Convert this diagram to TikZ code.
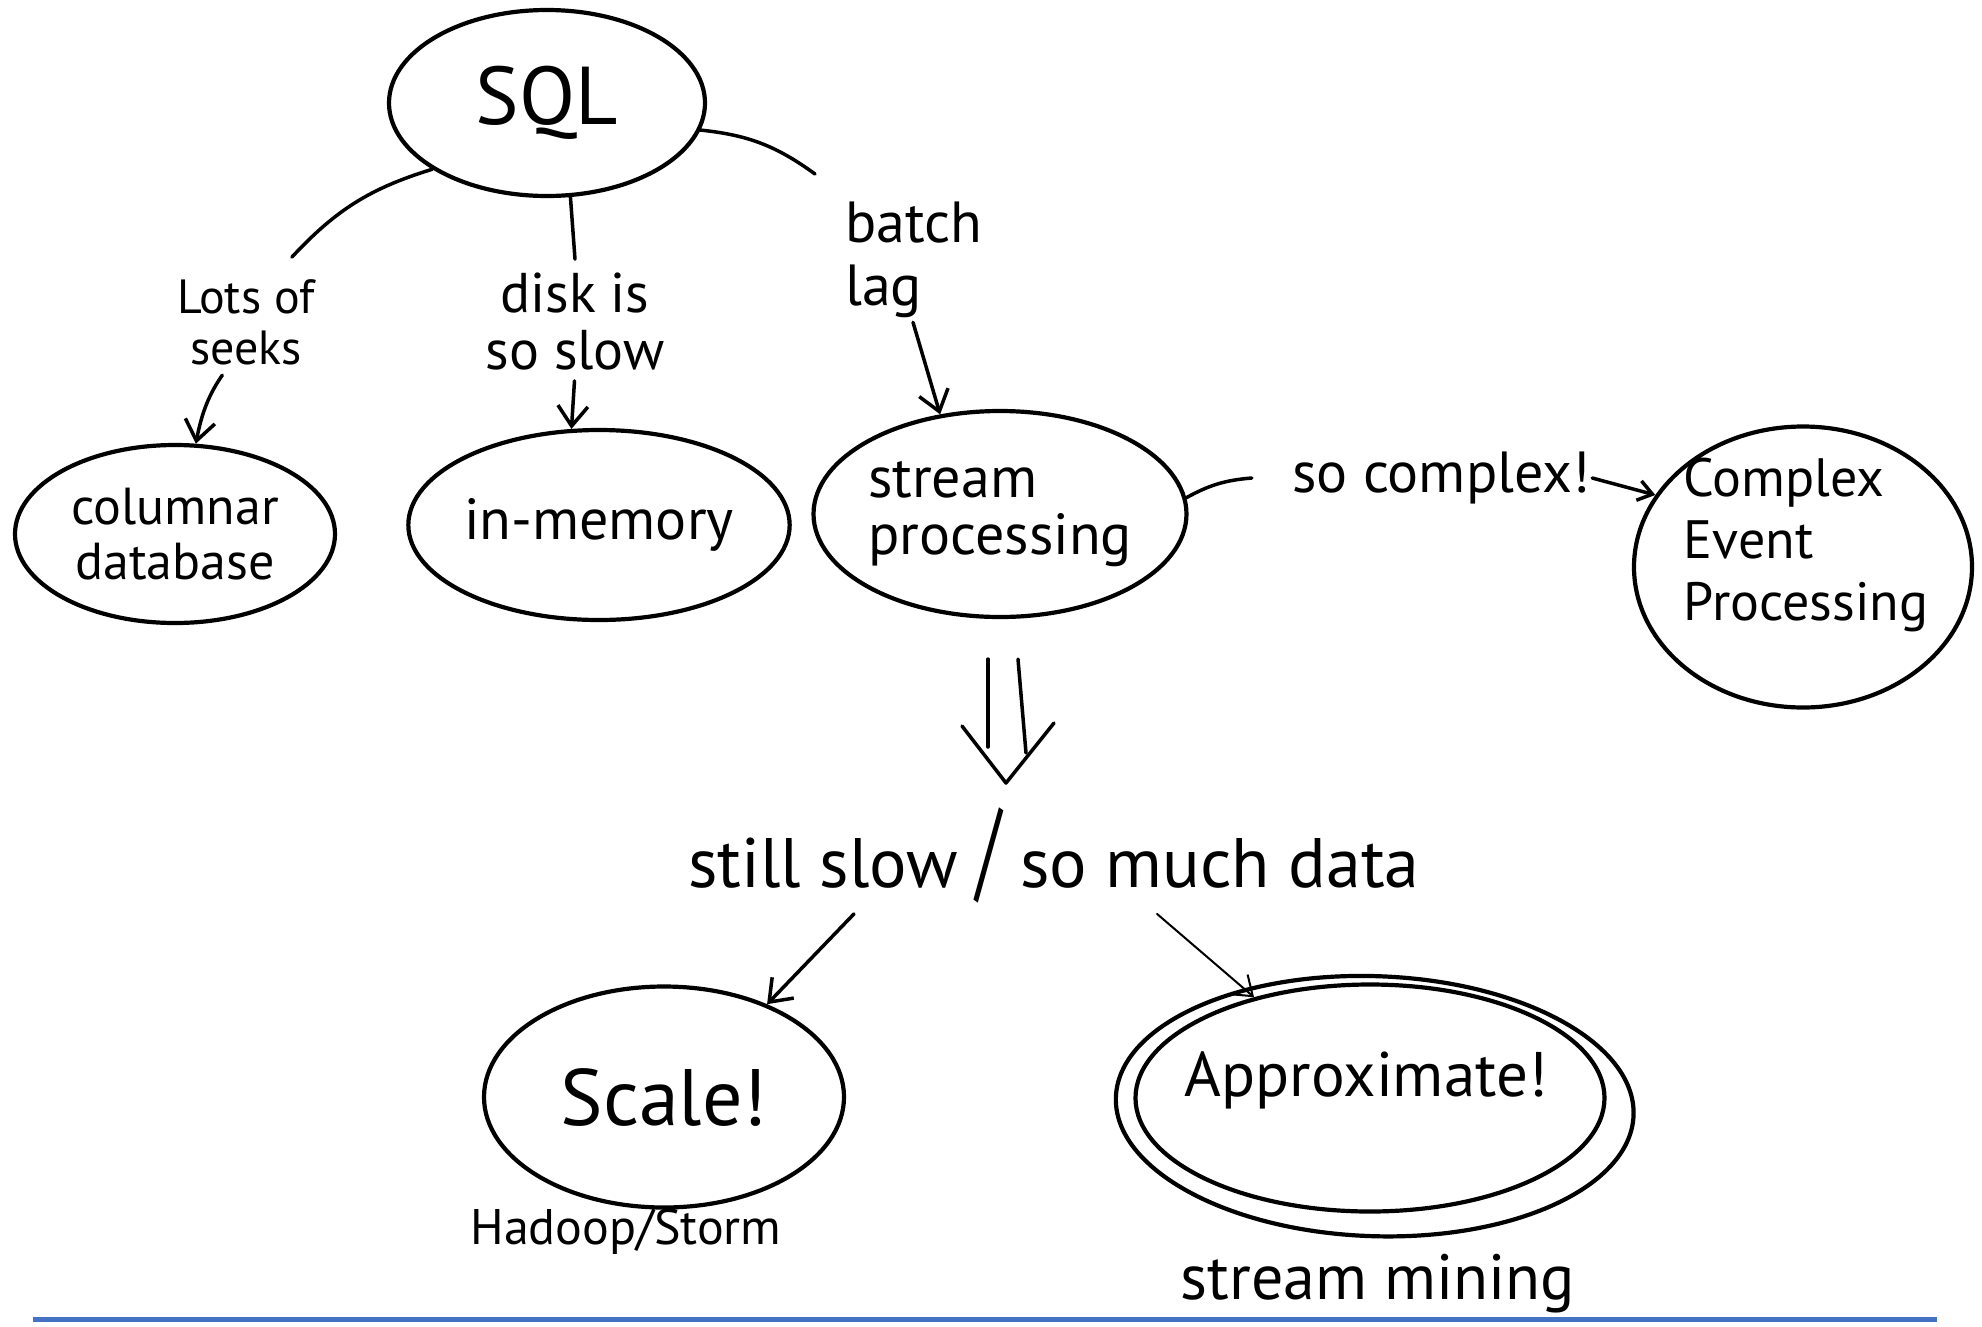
\documentclass[tikz,border=0pt]{standalone}
\usepackage{fontspec}
\usepackage{graphicx}
\setmainfont{PT Sans}
\usetikzlibrary{arrows.meta,shapes.geometric}
\definecolor{rulecolor}{HTML}{4472C4}

\begin{document}
\begin{tikzpicture}[x=1pt,y=1pt,
  bubble/.style={ellipse, draw, line width=4.2pt, inner sep=0pt},
  txt/.style={inner sep=2pt},
  link/.style={line width=3.5pt, line cap=round},
  tip/.style={link, -{Straight Barb[length=20pt,width=30pt]}},
]
\useasboundingbox (0,-1326) rectangle (1982,0);

% ---- bubbles ----
\node[bubble, minimum width=316pt, minimum height=186pt,
      font=\fontsize{82}{84}\selectfont] (sql) at (547,-103) {SQL};
\node[bubble, minimum width=320pt, minimum height=178pt, align=center,
      font=\fontsize{52}{55}\selectfont] (col) at (175,-534) {columnar\\database};
\node[bubble, minimum width=369pt, minimum height=190pt,
      font=\fontsize{58}{60}\selectfont] (mem) at (599,-525) {in-memory};
\node[bubble, minimum width=339pt, minimum height=206pt, align=left,
      font=\fontsize{58}{57}\selectfont] (stream) at (1000,-514) {stream\\processing};
\node[bubble, minimum width=338pt, minimum height=281pt] (cep) at (1803,-567) {};
\node[txt, align=left, font=\fontsize{54}{62}\selectfont] (ceptext) at (1806,-545)
      {Complex\\Event\\Processing};
\node[bubble, minimum width=360pt, minimum height=221pt,
      font=\fontsize{80}{82}\selectfont] (scale) at (664,-1097) {Scale!};
% Approximate! is circled twice
\node[bubble, minimum width=469pt, minimum height=227pt] (approx) at (1370,-1098) {};
\draw[line width=4.2pt, rotate around={-2:(approx.center)}]
      ([shift={(5pt,-8pt)}]approx.center) ellipse [x radius=259, y radius=130];
\node[txt, font=\fontsize{63}{66}\selectfont] (approxtext) at (1366,-1080) {Approximate!};

% ---- labels ----
\node[txt, align=center, font=\fontsize{48}{51}\selectfont] (seeks) at (246,-322) {Lots of\\seeks};
\node[txt, align=center, font=\fontsize{56}{57}\selectfont] (disk) at (575,-322) {disk is\\so slow};
\node[txt, align=left, anchor=north west, font=\fontsize{58}{63}\selectfont] (batch) at (843,-200) {batch\\lag};
\node[txt, font=\fontsize{58}{60}\selectfont] (cplx) at (1441,-478) {so complex!};
\node[txt, anchor=base, font=\fontsize{70}{72}\selectfont] (issue) at (1054,-887)
      {still slow \scalebox{1}[1.6]{/} so much data};
\node[txt, font=\fontsize{50}{52}\selectfont] (hadoop) at (626,-1232) {Hadoop/Storm};
\node[txt, font=\fontsize{64}{66}\selectfont] (mining) at (1378,-1284) {stream mining};

% ---- connectors ----
\draw[link] (sql.210) to[bend right=15] ([shift={(-25pt,20pt)}]seeks.north east);
\draw[tip, shorten <=10pt] ([xshift=-18pt]seeks.south) to[bend right=12] (col.77);
\draw[link] (sql.-76) -- ([yshift=12pt]disk.north);
\draw[tip, shorten <=8pt] (disk.south) -- (mem.106);
\draw[link] (sql.-10) to[bend left=15] ([shift={(-28pt,26pt)}]batch.north west);
\draw[tip] ([shift={(70pt,-2pt)}]batch.south west) -- (stream.121);
\draw[link] (stream.5) to[bend left=12] ([xshift=-38pt]cplx.west);
\draw[link, -{Straight Barb[length=14pt,width=20pt]}] (cplx.east) -- (cep.154);

% double arrow from stream processing down to the issue line
\coordinate (dtip) at (1006,-783);
\draw[link] ([shift={(-12pt,-40pt)}]stream.south) -- ([shift={(-18pt,36pt)}]dtip);
\draw[link] ([shift={(18pt,-40pt)}]stream.south) -- ([shift={(20pt,30pt)}]dtip);
\draw[link, line join=round] ([shift={(-44pt,57pt)}]dtip) -- (dtip) -- ([shift={(48pt,60pt)}]dtip);

\draw[tip] ([shift={(-200pt,-9pt)}]issue.south) -- (scale.42);
\draw[link, line width=2pt, -{Straight Barb[length=18pt,width=26pt]}]
      ([shift={(103pt,-9pt)}]issue.south) -- (approx.139);

% ---- bottom rule ----
\draw[line width=5pt, rulecolor] (33,-1319) -- (1937,-1319);
\end{tikzpicture}
\end{document}
